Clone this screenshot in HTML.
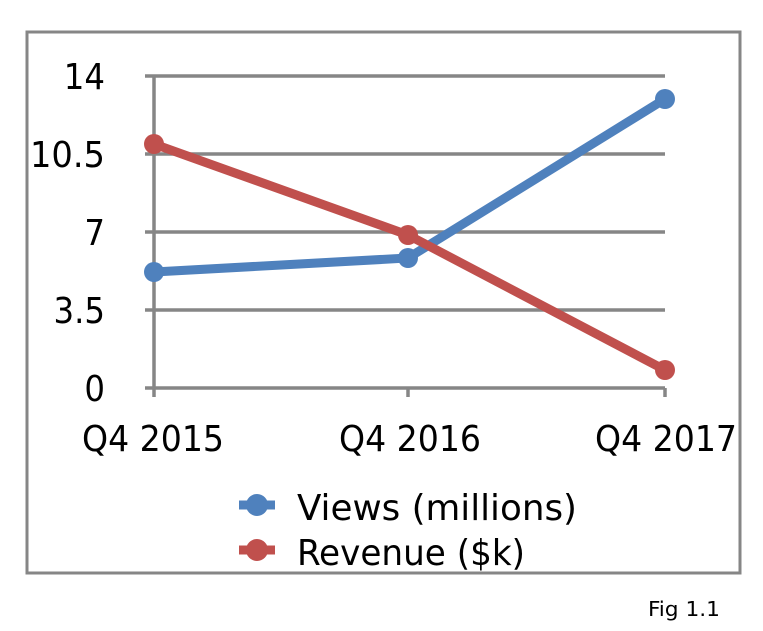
<!DOCTYPE html>
<html><head><style>body{margin:0;background:#fff}</style></head><body>
<svg width="763" height="626" xmlns="http://www.w3.org/2000/svg" font-family="'DejaVu Sans Condensed','DejaVu Sans','Liberation Sans',sans-serif">
<rect x="27" y="32" width="713" height="541" fill="#fff" stroke="#868686" stroke-width="3"/>
<g stroke="#868686" stroke-width="3.5">
<line x1="145" y1="76" x2="665" y2="76"/>
<line x1="145" y1="154" x2="665" y2="154"/>
<line x1="145" y1="232" x2="665" y2="232"/>
<line x1="145" y1="310" x2="665" y2="310"/>
<line x1="145" y1="388" x2="665" y2="388"/>
<line x1="154" y1="76" x2="154" y2="397"/>
<line x1="408" y1="388" x2="408" y2="397"/>
<line x1="665" y1="388" x2="665" y2="397"/>
</g>
<g font-size="36" fill="#000" text-anchor="end">
<text x="105" y="89">14</text>
<text x="105" y="167" textLength="75" lengthAdjust="spacingAndGlyphs">10.5</text>
<text x="105" y="245">7</text>
<text x="105" y="323">3.5</text>
<text x="105" y="401">0</text>
</g>
<g font-size="36" fill="#000">
<text x="82" y="451" textLength="142" lengthAdjust="spacingAndGlyphs">Q4 2015</text>
<text x="339" y="451" textLength="142" lengthAdjust="spacingAndGlyphs">Q4 2016</text>
<text x="595" y="451" textLength="142" lengthAdjust="spacingAndGlyphs">Q4 2017</text>
</g>
<polyline points="154,272 408,258 665,99" fill="none" stroke="#4f81bd" stroke-width="9"/>
<g fill="#4f81bd"><circle cx="154" cy="272" r="10"/><circle cx="408" cy="258" r="10"/><circle cx="665" cy="99" r="10"/></g>
<polyline points="154,144 408,235 665,370" fill="none" stroke="#c0504d" stroke-width="9"/>
<g fill="#c0504d"><circle cx="154" cy="144" r="10"/><circle cx="408" cy="235" r="10"/><circle cx="665" cy="370" r="10"/></g>
<line x1="239" y1="505" x2="275" y2="505" stroke="#4f81bd" stroke-width="9"/><circle cx="257" cy="505" r="11" fill="#4f81bd"/>
<line x1="239" y1="550" x2="275" y2="550" stroke="#c0504d" stroke-width="9"/><circle cx="257" cy="550" r="11" fill="#c0504d"/>
<g font-size="36" fill="#000">
<text x="297" y="520" textLength="280" lengthAdjust="spacingAndGlyphs">Views (millions)</text>
<text x="297" y="565" textLength="228" lengthAdjust="spacingAndGlyphs">Revenue ($k)</text>
</g>
<text x="648" y="616" font-size="20" textLength="72" lengthAdjust="spacingAndGlyphs" fill="#000">Fig 1.1</text>
</svg>
</body></html>
